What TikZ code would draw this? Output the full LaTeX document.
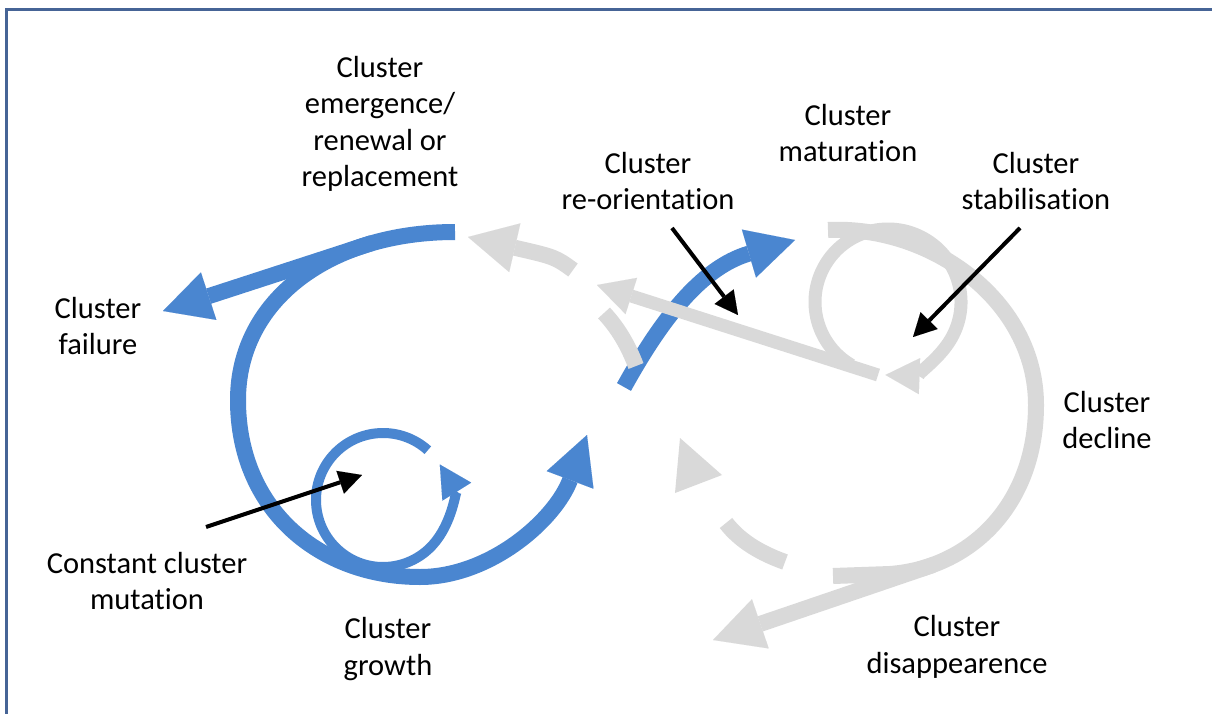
\documentclass[tikz,border=0pt]{standalone}
\usepackage{fontspec}
\setmainfont[Ligatures=NoCommon]{Carlito}
\usetikzlibrary{arrows.meta}
\definecolor{cblue}{RGB}{74,134,208}
\definecolor{cgrey}{RGB}{217,217,217}
\definecolor{cframe}{RGB}{70,100,150}
\begin{document}
\begin{tikzpicture}[x=1pt,y=-1pt,
  lbl/.style={font=\fontsize{30.5}{36.5}\selectfont, align=center, inner sep=0pt},
  bluethick/.style={draw=cblue, line width=16pt},
  bluethin/.style={draw=cblue, line width=10pt},
  greythick/.style={draw=cgrey, line width=16pt},
  greythin/.style={draw=cgrey, line width=13pt},
  bighead/.style={-{Triangle[width=50pt,length=48pt,line width=0.01pt]}},
  midhead/.style={-{Triangle[width=36pt,length=34pt,line width=0.01pt]}},
  blk/.style={draw=black, line width=4pt, -{Triangle[width=24pt,length=23pt,line width=0.01pt]}}
]
\useasboundingbox (0,0) rectangle (1212,714);
\fill[white] (0,0) rectangle (1212,714);
% frame
\draw[cframe, line width=3pt] (6.5,714) -- (6.5,9.5) -- (1212,9.5);

% ---------- blue ----------
\draw[bluethick, bighead] (455,232) .. controls (330,232) and (238,300) .. (238,400)
  .. controls (238,510) and (320,577) .. (420,577)
  .. controls (490,577) and (555,520) .. (587,435);
\draw[bluethick, bighead] (372,243) -- (163,311);
\draw[bluethin, -{Triangle[width=34pt,length=32pt,line width=0.01pt]}]
  (383,500) ++(-48:67) arc[start angle=-48, end angle=-392, radius=67];
\draw[bluethick, bighead] (624,387) .. controls (660,322) and (700,268) .. (795,240);

% ---------- grey ----------
\draw[greythick] (828,230) .. controls (930,225) and (1036,300) .. (1036,405)
  .. controls (1036,505) and (970,568) .. (890,574) -- (833,576);
\draw[greythick, -{Triangle[width=52pt,length=50pt,line width=0.01pt]}]
  (933,565) -- (713,640);
\draw[greythin, midhead] (888,302) ++(120:73) arc[start angle=120, end angle=452, radius=73];
\draw[greythin, -{Triangle[width=38pt,length=36pt,line width=0.01pt]}] (878,375) -- (597,285);
% dashed return
\draw[greythick] (785,562) .. controls (760,553) and (740,541) .. (726,523);
\fill[cgrey] (680,438) -- (675,493) -- (722,475) -- cycle;
\draw[greythick] (636,366) .. controls (628,345) and (618,328) .. (604,313);
\draw[greythick, bighead] (573,270) .. controls (555,257) .. (468,237);

% ---------- labels ----------
\node[lbl] (emerg) at (380,124) {Cluster\\emergence/\\renewal or\\replacement};
\node[lbl] (fail) at (98,326) {Cluster\\failure};
\node[lbl] (mut) at (147,581) {Constant cluster\\mutation};
\node[lbl] (grow) at (388,649) {Cluster\\growth};
\node[lbl] (reor) at (648,181) {Cluster\\re-orientation};
\node[lbl] (mat) at (848,133) {Cluster\\maturation};
\node[lbl] (stab) at (1036,181) {Cluster\\stabilisation};
\node[lbl] (decl) at (1107,420) {Cluster\\decline};
\node[lbl] (disap) at (957,647) {Cluster\\disappearence};

% ---------- black pointers ----------
\coordinate (reorEnd) at (738,315);
\coordinate (stabEnd) at (913,337);
\coordinate (mutEnd) at (362,475);
\draw[blk] (672,228) -- (reorEnd);
\draw[blk] (1020,228) -- (stabEnd);
\draw[blk] (206,527) -- (mutEnd);
\end{tikzpicture}
\end{document}
